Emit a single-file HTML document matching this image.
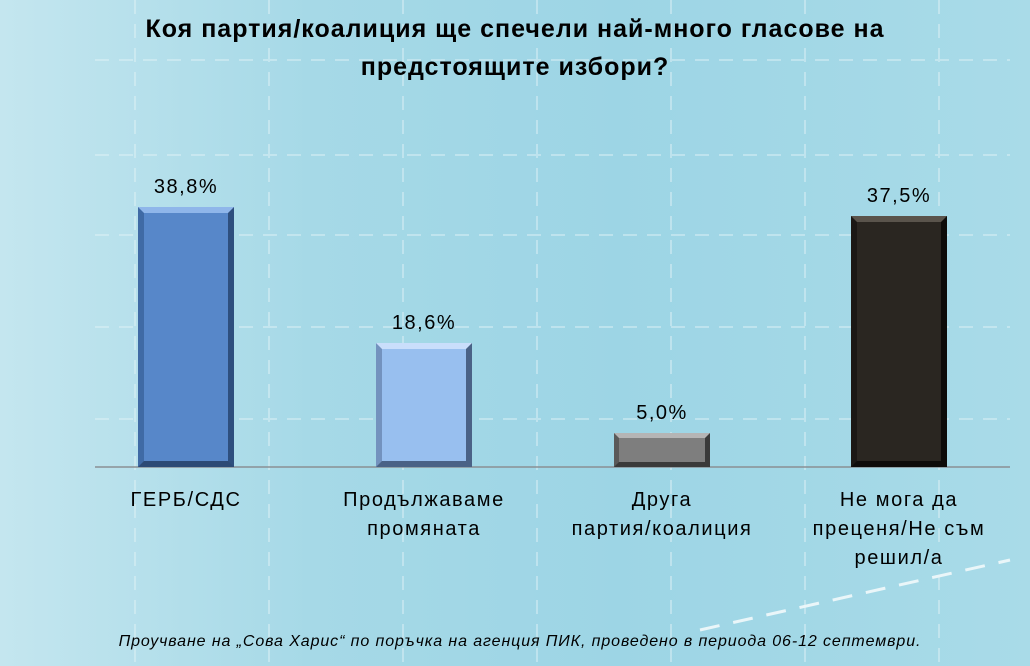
<!DOCTYPE html>
<html><head><meta charset="utf-8"><style>
body{margin:0;width:1030px;height:666px;overflow:hidden;font-family:"Liberation Sans","DejaVu Sans",sans-serif;}
.bg{position:absolute;left:0;top:0;width:1030px;height:666px;background:linear-gradient(90deg,#c4e6ef 0%,#a6d9e7 30%,#9dd5e5 60%,#a9dbe8 100%);}
.t{position:absolute;text-align:center;color:#000;}
.v{font-size:20px;letter-spacing:1.5px;}
.l{font-size:20px;letter-spacing:1.6px;line-height:29px;}
.bar{position:absolute;box-sizing:border-box;}
</style></head><body>
<div class="bg"></div>
<svg width="1030" height="666" style="position:absolute;left:0;top:0">
<g stroke="#e4f4f8" stroke-width="2" stroke-dasharray="14,10" opacity="0.45">
<line x1="95" y1="60" x2="1010" y2="60"/>
<line x1="95" y1="155" x2="1010" y2="155"/>
<line x1="95" y1="235" x2="1010" y2="235"/>
<line x1="95" y1="327" x2="1010" y2="327"/>
<line x1="95" y1="419" x2="1010" y2="419"/>
<line x1="135" y1="0" x2="135" y2="666"/>
<line x1="269" y1="0" x2="269" y2="666"/>
<line x1="403" y1="0" x2="403" y2="666"/>
<line x1="537" y1="0" x2="537" y2="666"/>
<line x1="671" y1="0" x2="671" y2="666"/>
<line x1="805" y1="0" x2="805" y2="666"/>
<line x1="939" y1="0" x2="939" y2="666"/>
</g>
<line x1="95" y1="467" x2="1010" y2="467" stroke="#8a8f94" stroke-width="1.5"/>
<line x1="700" y1="630" x2="1010" y2="560" stroke="#eaf6f9" stroke-width="3" stroke-dasharray="20,14"/>
</svg>
<div class="bar" style="left:138px;top:207px;width:96px;height:260px;background:#5787c9;border:6px solid;border-color:#8fb6ea #2e4f7e #2c4a75 #3f6aa5;"></div>
<div class="bar" style="left:376px;top:343px;width:96px;height:124px;background:#98bfef;border:6px solid;border-color:#c9defb #4a6286 #4a6286 #7392be;"></div>
<div class="bar" style="left:614px;top:433px;width:96px;height:34px;background:#7e7e7e;border:5px solid;border-color:#b5b5b5 #3a3a3a #3a3a3a #5a5a5a;"></div>
<div class="bar" style="left:851px;top:216px;width:96px;height:251px;background:#2a2621;border:6px solid;border-color:#5a544c #0e0c0a #0e0c0a #1b1815;"></div>
<div class="t" style="left:60px;top:10px;width:910px;font-size:25px;letter-spacing:1px;font-weight:bold;line-height:38px;">Коя партия/коалиция ще спечели най-много гласове на<br>предстоящите избори?</div>
<div class="t v" style="left:116px;top:176px;width:140px;">38,8%</div>
<div class="t v" style="left:354px;top:312px;width:140px;">18,6%</div>
<div class="t v" style="left:592px;top:402px;width:140px;">5,0%</div>
<div class="t v" style="left:829px;top:185px;width:140px;">37,5%</div>
<div class="t l" style="left:86px;top:486px;width:200px;">ГЕРБ/СДС</div>
<div class="t l" style="left:314px;top:486px;width:220px;">Продължаваме<br>промяната</div>
<div class="t l" style="left:552px;top:486px;width:220px;">Друга<br>партия/коалиция</div>
<div class="t l" style="left:779px;top:486px;width:240px;">Не мога да<br>преценя/Не съм<br>решил/а</div>
<div class="t" style="left:40px;top:633px;width:960px;font-size:16px;letter-spacing:0.9px;font-style:italic;">Проучване на „Сова Харис“ по поръчка на агенция ПИК, проведено в периода 06-12 септември.</div>
</body></html>
